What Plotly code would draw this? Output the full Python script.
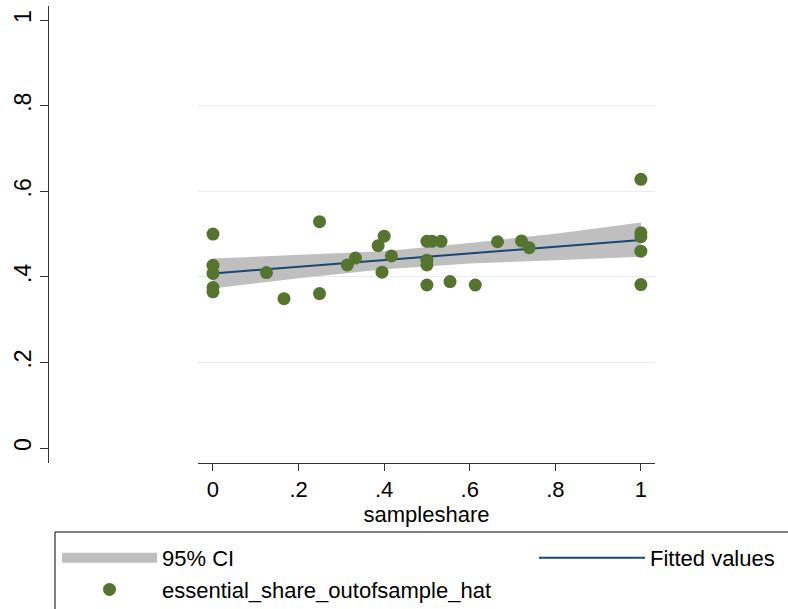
import plotly.graph_objects as go

# ---- data ----
sampleshare = [0, 0, 0, 0, 0, 0.125, 0.166, 0.249, 0.249, 0.314, 0.333, 0.386,
               0.400, 0.395, 0.417, 0.500, 0.500, 0.500, 0.500, 0.512, 0.533,
               0.554, 0.613, 0.665, 0.721, 0.739, 1, 1, 1, 1, 1]
essential_hat = [0.500, 0.427, 0.408, 0.375, 0.365, 0.410, 0.349, 0.529, 0.361,
                 0.428, 0.444, 0.473, 0.495, 0.411, 0.449, 0.483, 0.439, 0.428,
                 0.381, 0.483, 0.483, 0.389, 0.381, 0.482, 0.484, 0.468, 0.628,
                 0.503, 0.494, 0.460, 0.382]

fit_x = [0, 1]
fit_y = [0.408, 0.486]

ci_x = [0, 0.2, 0.4, 0.6, 0.8, 1.0]
ci_lo = [0.373, 0.397, 0.418, 0.431, 0.439, 0.447]
ci_hi = [0.443, 0.451, 0.460, 0.479, 0.501, 0.527]

x_ticks = [0, 0.2, 0.4, 0.6, 0.8, 1]
x_ticklabels = ["0", ".2", ".4", ".6", ".8", "1"]
y_ticks = [0, 0.2, 0.4, 0.6, 0.8, 1]
y_ticklabels = ["0", ".2", ".4", ".6", ".8", "1"]
grid_ticks = [0.2, 0.4, 0.6, 0.8]

W, H = 788, 609
FONT = "Liberation Sans, Arial, Helvetica, sans-serif"
NAVY = "#1a476f"
GREEN = "#55752f"
GRAY = "#bfbfbf"

fig = go.Figure()
fig.add_trace(go.Scatter(x=ci_x, y=ci_lo, mode="lines", line=dict(width=0, color=GRAY),
                         showlegend=False, hoverinfo="skip"))
fig.add_trace(go.Scatter(x=ci_x, y=ci_hi, mode="lines", line=dict(width=0, color=GRAY),
                         fill="tonexty", fillcolor=GRAY, name="95% CI",
                         showlegend=False, hoverinfo="skip"))
# legend swatch for the CI band (a wide grey block, as in the reference)
fig.add_trace(go.Scatter(x=[None], y=[None], mode="lines", line=dict(width=25, color=GRAY),
                         name="95% CI", legend="legend"))
fig.add_trace(go.Scatter(x=fit_x, y=fit_y, mode="lines", line=dict(width=2, color=NAVY),
                         name="Fitted values", legend="legend2"))
fig.add_trace(go.Scatter(x=sampleshare, y=essential_hat, mode="markers",
                         marker=dict(size=13, color=GREEN, line=dict(width=0)),
                         name="essential_share_outofsample_hat", legend="legend"))
# invisible trace carrying the gridlines
fig.add_trace(go.Scatter(x=[None], y=[None], yaxis="y2", showlegend=False))

rng = [-0.035, 1.033]
xdom = [198 / W, 655 / W]
ydom = [1 - 463 / H, 1 - 6 / H]

fig.update_layout(
    width=W, height=H,
    margin=dict(l=0, r=0, t=0, b=0, autoexpand=False),
    paper_bgcolor="white", plot_bgcolor="white",
    font=dict(family=FONT, size=22, color="black"),
    xaxis=dict(domain=xdom, range=rng, tickvals=x_ticks, ticktext=x_ticklabels,
               showgrid=False, zeroline=False, showline=True, linecolor="#333333",
               linewidth=1, ticks="outside", ticklen=7, tickcolor="#333333",
               title=dict(text="sampleshare", standoff=2, font=dict(size=22)),
               tickfont=dict(size=22)),
    yaxis=dict(domain=ydom, range=rng, tickvals=y_ticks, ticktext=y_ticklabels,
               anchor="free", position=48 / W,
               showgrid=False, zeroline=False, showline=True, linecolor="#333333",
               linewidth=1, ticks="outside", ticklen=8, tickcolor="#333333",
               tickangle=-90, tickfont=dict(size=23)),
    yaxis2=dict(domain=ydom, range=rng, overlaying="y", anchor="x",
                tickvals=grid_ticks, showgrid=True, gridcolor="#e6eef0", gridwidth=1,
                showticklabels=False, showline=False, zeroline=False, ticks=""),
    legend=dict(x=57 / W, xanchor="left", y=1 - 537 / H, yanchor="top",
                orientation="v", itemwidth=95, bgcolor="rgba(0,0,0,0)",
                traceorder="normal", font=dict(size=22), tracegroupgap=0),
    legend2=dict(x=534 / W, xanchor="left", y=1 - 537 / H, yanchor="top",
                 orientation="v", itemwidth=106, bgcolor="rgba(0,0,0,0)",
                 font=dict(size=22)),
    shapes=[dict(type="rect", xref="paper", yref="paper",
                 x0=55 / W, x1=1.02, y0=-0.02, y1=1 - 532 / H,
                 line=dict(color="black", width=1), fillcolor="rgba(0,0,0,0)")],
)

fig.write_html("out.html")
